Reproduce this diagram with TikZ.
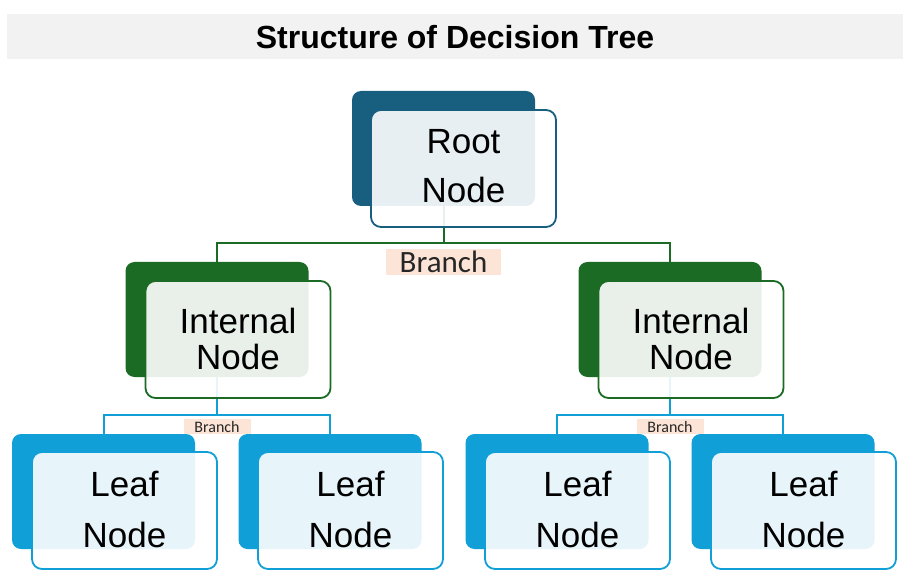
\documentclass[tikz,border=0pt]{standalone}
\usepackage{fontspec}
\setmainfont{Liberation Sans}
\newfontfamily\brfont{Carlito}
\usetikzlibrary{backgrounds}
\definecolor{rootc}{HTML}{175E7F}
\definecolor{intc}{HTML}{1B6B25}
\definecolor{leafc}{HTML}{109FD6}
\definecolor{brbg}{HTML}{FCE4D6}
\definecolor{titlebg}{HTML}{F2F2F2}
\begin{document}
\begin{tikzpicture}[x=1pt,y=-1pt,
  backbox/.style={fill=#1, draw=none, rounded corners=9pt, minimum width=183pt, minimum height=115pt, inner sep=0pt},
  frontbox/.style={draw=#1, line width=1.8pt, fill=white, fill opacity=0.9, rounded corners=10pt, minimum width=185pt, minimum height=117pt, inner sep=0pt},
  nodetext/.style={align=center, font=\fontsize{35}{#1}\selectfont, text=black, inner sep=0pt},
  link/.style={draw=#1, line width=2pt},
  bigbranch/.style={fill=brbg, font=\brfont\fontsize{31}{31}\selectfont, minimum width=115pt, minimum height=26pt, inner sep=0pt, anchor=north, text=black!85},
  smallbranch/.style={fill=brbg, font=\brfont\fontsize{16}{16}\selectfont, minimum width=67pt, minimum height=15pt, inner sep=0pt, anchor=north, text=black!85},
]
\useasboundingbox (0,0) rectangle (910,585);

% title
\node[fill=titlebg, minimum width=896pt, minimum height=45pt, inner sep=0pt,
      font=\bfseries\fontsize{32}{32}\selectfont] (title) at (455,37) {Structure of Decision Tree};

% back boxes
\node[backbox=rootc] (rootb) at (443.5,148.5) {};
\node[backbox=intc] (intLb) at (217,319.5) {};
\node[backbox=intc] (intRb) at (670,319.5) {};
\node[backbox=leafc] (leaf1b) at (103.5,491.5) {};
\node[backbox=leafc] (leaf2b) at (330,491.5) {};
\node[backbox=leafc] (leaf3b) at (557,491.5) {};
\node[backbox=leafc] (leaf4b) at (783,491.5) {};

% front boxes
\node[frontbox=rootc] (rootf) at (463.5,168.5) {};
\node[frontbox=intc] (intLf) at (238,339.5) {};
\node[frontbox=intc] (intRf) at (691,339.5) {};
\node[frontbox=leafc] (leaf1f) at (124.5,510.5) {};
\node[frontbox=leafc] (leaf2f) at (350.5,510.5) {};
\node[frontbox=leafc] (leaf3f) at (577.5,510.5) {};
\node[frontbox=leafc] (leaf4f) at (803.5,510.5) {};

% texts
\node[nodetext=49] (roott) at ([yshift=2pt]rootf.center) {Root\\Node};
\node[nodetext=36] (intLt) at ([yshift=0.5pt]intLf.center) {Internal\\Node};
\node[nodetext=36] (intRt) at ([yshift=0.5pt]intRf.center) {Internal\\Node};
\node[nodetext=51] (leaf1t) at ([yshift=0.5pt]leaf1f.center) {Leaf\\Node};
\node[nodetext=51] (leaf2t) at ([yshift=0.5pt]leaf2f.center) {Leaf\\Node};
\node[nodetext=51] (leaf3t) at ([yshift=0.5pt]leaf3f.center) {Leaf\\Node};
\node[nodetext=51] (leaf4t) at ([yshift=0.5pt]leaf4f.center) {Leaf\\Node};

% junctions
\coordinate (j0) at (443.5,243);
\coordinate (j1) at (217,415);
\coordinate (j2) at (670,415);

\begin{pgfonlayer}{background}
  \draw[link=intc] (rootb.center) -- (j0);
  \draw[link=intc] (intLb.north) |- (j0) -| (intRb.north);
  \draw[link=leafc] (intLb.center) -- (j1);
  \draw[link=leafc] (leaf1b.north) |- (j1) -| (leaf2b.north);
  \draw[link=leafc] (intRb.center) -- (j2);
  \draw[link=leafc] (leaf3b.north) |- (j2) -| (leaf4b.north);
\end{pgfonlayer}

% branch labels
\node[bigbranch] (br0) at ([yshift=-6pt]j0) {Branch};
\node[smallbranch] (br1) at ([yshift=-4pt]j1) {Branch};
\node[smallbranch] (br2) at ([yshift=-4pt]j2) {Branch};
\end{tikzpicture}
\end{document}
